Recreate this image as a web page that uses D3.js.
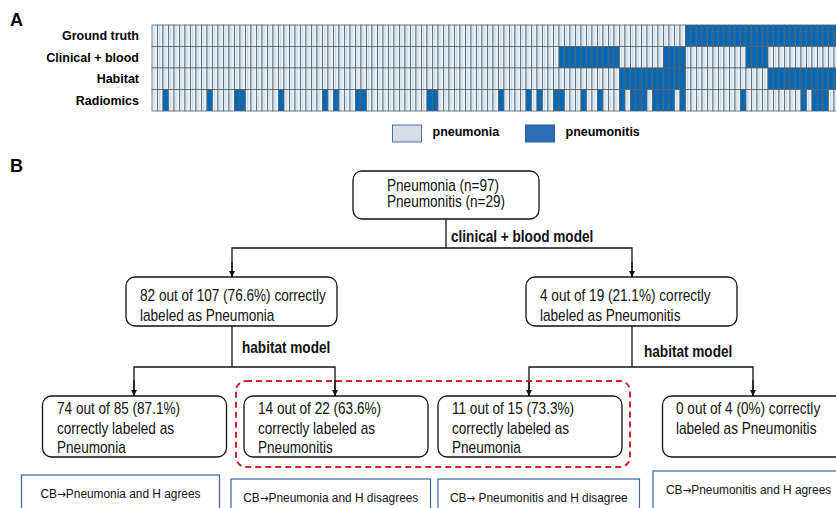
<!DOCTYPE html>
<html>
<head>
<meta charset="utf-8">
<script src="https://cdn.jsdelivr.net/npm/d3@7"></script>
<style>
  body { margin: 0; background: #fff; }
  svg { display: block; }
</style>
</head>
<body>
<div id="fig"></div>
<script>
// heatmap rows, 0 = pneumonia, 1 = pneumonitis, one char per patient (126)
const rowNames = ["Ground truth", "Clinical + blood", "Habitat", "Radiomics"];
const groundTruth =
  "0000000000" + "0000000000" + "0000000000" + "0000000000" + "0000000000" +
  "0000000000" + "0000000000" + "0000000000" + "0000000000" + "0000000111" +
  "1111111111" + "1111111111" + "111111";
const clinicalBlood =
  "0000000000" + "0000000000" + "0000000000" + "0000000000" + "0000000000" +
  "0000000000" + "0000000000" + "0000111111" + "1111100000" + "0001111000" +
  "0000000011" + "1100000000" + "000000";
const habitat =
  "0000000000" + "0000000000" + "0000000000" + "0000000000" + "0000000000" +
  "0000000000" + "0000000000" + "0000000000" + "0000011111" + "1111111000" +
  "0000000000" + "0011111111" + "111111";
const radiomics =
  "0010000000" + "1000011000" + "0001000000" + "0101000110" + "0000000000" +
  "1100000000" + "0001000010" + "1001100010" + "0100010111" + "0111101000" +
  "0000000100" + "0000000010" + "111000";
const rowData = [groundTruth, clinicalBlood, habitat, radiomics];
const legendLabels = ["pneumonia", "pneumonitis"];

// flow chart texts
const rootLines = ["Pneumonia (n=97)", "Pneumonitis (n=29)"];
const modelLabels = ["clinical + blood model", "habitat model", "habitat model"];
const levelTwo = [
  ["82 out of 107 (76.6%) correctly", "labeled as Pneumonia"],
  ["4 out of 19 (21.1%) correctly", "labeled as Pneumonitis"]
];
const levelThree = [
  ["74 out of 85 (87.1%)", "correctly labeled as", "Pneumonia"],
  ["14 out of 22 (63.6%)", "correctly labeled as", "Pneumonitis"],
  ["11 out of 15 (73.3%)", "correctly labeled as", "Pneumonia"],
  ["0 out of 4 (0%) correctly", "labeled as Pneumonitis"]
];
const agreeLabels = [
  ["CB", "Pneumonia and H agrees"],
  ["CB", "Pneumonia and H disagrees"],
  ["CB", " Pneumonitis and H disagree"],
  ["CB", "Pneumonitis and H agrees"]
];

const width = 836, height = 508;
const light = "#e6f0f8", blue = "#046cb8";
const sans = "'Liberation Sans', Arial, sans-serif";
const squeeze = 0.85; // the flow chart uses a condensed face

const svg = d3.select("#fig").append("svg")
  .attr("width", width)
  .attr("height", height)
  .style("background", "#fff");

svg.append("defs").append("marker")
  .attr("id", "arrow")
  .attr("viewBox", "0 0 10 10")
  .attr("refX", 10).attr("refY", 5)
  .attr("markerWidth", 6).attr("markerHeight", 7)
  .attr("markerUnits", "userSpaceOnUse")
  .attr("orient", "auto")
  .append("path")
  .attr("d", "M0,0 L10,5 L0,10 z")
  .attr("fill", "#111");

// ---------- panel A: heatmap ----------
const nCases = groundTruth.length;
const cellW = 5.5;
const xScale = d3.scaleBand()
  .domain(d3.range(nCases))
  .range([152, 152 + nCases * cellW]);
const yScale = d3.scaleBand()
  .domain(rowNames)
  .range([25, 111]);

const cells = [];
rowNames.forEach((r, i) => {
  rowData[i].split("").forEach((v, j) => cells.push({ row: r, idx: j, v: +v }));
});

svg.append("text")
  .attr("x", 10).attr("y", 26)
  .attr("font-family", sans).attr("font-weight", "bold").attr("font-size", 18)
  .text("A");

const heat = svg.append("g");
heat.selectAll("rect")
  .data(cells)
  .enter()
  .append("rect")
  .attr("x", d => xScale(d.idx))
  .attr("y", d => yScale(d.row))
  .attr("width", xScale.bandwidth())
  .attr("height", yScale.bandwidth())
  .attr("fill", d => d.v ? blue : light)
  .attr("stroke", "#5a6168")
  .attr("stroke-width", 0.8);

// faint shading band next to each cell edge
heat.selectAll("line")
  .data(cells)
  .enter()
  .append("line")
  .attr("x1", d => xScale(d.idx) + 2)
  .attr("x2", d => xScale(d.idx) + 2)
  .attr("y1", d => yScale(d.row) + 0.5)
  .attr("y2", d => yScale(d.row) + yScale.bandwidth() - 0.5)
  .attr("stroke", d => d.v ? "#0a5795" : "#aab3bb")
  .attr("stroke-opacity", 0.35)
  .attr("stroke-width", 1.2);

svg.append("g").selectAll("text")
  .data(rowNames)
  .enter()
  .append("text")
  .attr("x", 139)
  .attr("y", d => yScale(d) + yScale.bandwidth() / 2 + 4.5)
  .attr("text-anchor", "end")
  .attr("font-family", sans).attr("font-weight", "bold").attr("font-size", 12.5)
  .text(d => d);

// legend
const legend = svg.append("g");
const legendX = d3.scaleOrdinal().domain(legendLabels).range([392.5, 525.5]);
legend.selectAll("rect")
  .data(legendLabels)
  .enter()
  .append("rect")
  .attr("x", d => legendX(d))
  .attr("y", 125)
  .attr("width", 29)
  .attr("height", 17)
  .attr("fill", (d, i) => i ? "#2e6db4" : "#d6dde8")
  .attr("stroke", (d, i) => i ? "#2a5d9e" : "#4c6eae")
  .attr("stroke-width", 1);
legend.selectAll("text")
  .data(legendLabels)
  .enter()
  .append("text")
  .attr("x", d => legendX(d) + 40)
  .attr("y", 136)
  .attr("font-family", sans).attr("font-weight", "bold").attr("font-size", 12.5)
  .text(d => d);

// ---------- panel B: flow chart ----------
svg.append("text")
  .attr("x", 10).attr("y", 172)
  .attr("font-family", sans).attr("font-weight", "bold").attr("font-size", 18)
  .text("B");

const fs = 16, lh = 19.5;

// condensed text: horizontal squeeze around the anchor point
function ntext(parent, x, y, str, size, bold, anchor) {
  return parent.append("text")
    .attr("transform", `translate(${x},${y}) scale(${squeeze},1)`)
    .attr("text-anchor", anchor || "start")
    .attr("font-family", sans)
    .attr("font-size", size)
    .attr("font-weight", bold ? "bold" : "normal")
    .attr("fill", "#111")
    .text(str);
}

function box(x, y, w, h, lines, tx, ty, step) {
  const g = svg.append("g");
  g.append("rect")
    .attr("x", x).attr("y", y).attr("width", w).attr("height", h)
    .attr("rx", 9).attr("ry", 9)
    .attr("fill", "#fff").attr("stroke", "#111").attr("stroke-width", 1.3);
  lines.forEach((t, i) => ntext(g, tx, ty + i * (step || lh), t, fs));
}

function path(points, arrow) {
  const p = svg.append("path")
    .attr("d", d3.line()(points))
    .attr("fill", "none")
    .attr("stroke", "#111")
    .attr("stroke-width", 1.3);
  if (arrow) p.attr("marker-end", "url(#arrow)");
}

// root
box(353, 171, 186, 48, rootLines, 387, 191, 15.5);

path([[446, 219], [446, 248]]);
path([[232, 277], [232, 248], [632, 248], [632, 277]]);
path([[232, 262], [232, 277]], true);
path([[632, 262], [632, 277]], true);
ntext(svg, 451, 242, modelLabels[0], fs, true);

// level two
box(126, 277, 211, 49, levelTwo[0], 140, 301);
box(526, 277, 211, 49, levelTwo[1], 540, 301);

// habitat model splits
path([[232, 326], [232, 367]]);
path([[134, 396], [134, 367], [335, 367], [335, 396]]);
path([[134, 380], [134, 396]], true);
path([[335, 380], [335, 396]], true);
ntext(svg, 242, 353, modelLabels[1], fs, true);

path([[632, 326], [632, 367]]);
path([[529, 396], [529, 367], [753, 367], [753, 396]]);
path([[529, 380], [529, 396]], true);
path([[753, 380], [753, 396]], true);
ntext(svg, 644, 357, modelLabels[2], fs, true);

// level three
const l3x = [42.5, 244, 438, 662.5];
const l3tx = [57, 258, 452, 676];
levelThree.forEach((lines, i) => {
  box(l3x[i], 396, 184, 61, lines, l3tx[i], 414);
});

// highlighted disagreements
svg.append("rect")
  .attr("x", 236).attr("y", 381)
  .attr("width", 394).attr("height", 86)
  .attr("rx", 10).attr("ry", 10)
  .attr("fill", "none")
  .attr("stroke", "#d3212b")
  .attr("stroke-width", 2)
  .attr("stroke-dasharray", "6,4");

// bottom agreement boxes
const agreeBoxes = [
  { x: 21.5, y: 475, w: 198 },
  { x: 231, y: 479, w: 199.5 },
  { x: 438, y: 479, w: 201.5 },
  { x: 653, y: 471, w: 200 }
];
const agree = svg.append("g");
agree.selectAll("rect")
  .data(agreeBoxes)
  .enter()
  .append("rect")
  .attr("x", d => d.x).attr("y", d => d.y)
  .attr("width", d => d.w).attr("height", 45)
  .attr("fill", "#fff")
  .attr("stroke", "#3f5f9e")
  .attr("stroke-width", 1.2);
agreeLabels.forEach((parts, i) => {
  const b = agreeBoxes[i];
  const anchor = i === 3 ? "start" : "middle";
  const x = i === 3 ? b.x + 13 : b.x + b.w / 2;
  const t = agree.append("text")
    .attr("transform", `translate(${x},${b.y + 23}) scale(0.88,1)`)
    .attr("text-anchor", anchor)
    .attr("font-family", sans).attr("font-size", 13.5)
    .attr("fill", "#111");
  t.append("tspan").text(parts[0]);
  t.append("tspan").attr("font-family", "'DejaVu Sans', sans-serif").attr("font-size", 12).text("\u2192");
  t.append("tspan").text(parts[1]);
});
</script>
</body>
</html>
